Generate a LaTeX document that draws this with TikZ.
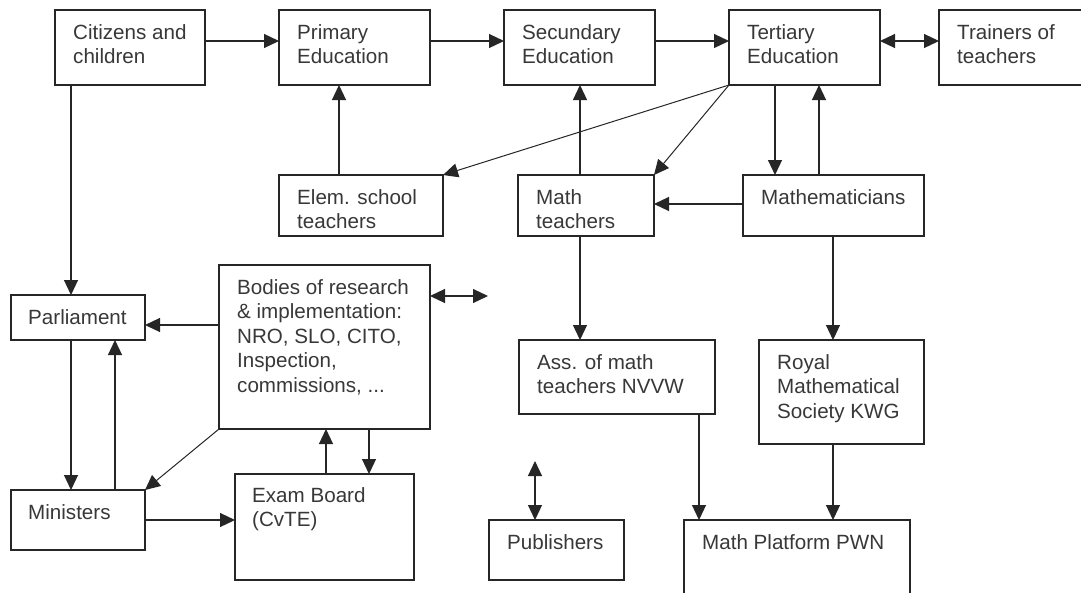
\documentclass[tikz,border=0pt]{standalone}
\usepackage{fontspec}
\setmainfont{Liberation Sans}
\usetikzlibrary{arrows.meta,calc}
\newcommand{\mytxt}[1]{\begin{tabular}[t]{@{}l@{}}#1\end{tabular}}
\begin{document}
\begin{tikzpicture}[x=1pt,y=-1pt,
  box/.style={draw=black!85, line width=1.2pt, inner sep=0pt, outer sep=0pt, anchor=north west, rectangle},
  lbl/.style={anchor=base west, inner sep=0pt, text=black!78, font=\fontsize{20.6}{24.5}\selectfont},
  conn/.style={draw=black!85, line width=1.2pt, -{Triangle[length=15pt,width=14pt]}},
  dconn/.style={draw=black!85, line width=1.2pt, {Triangle[length=15pt,width=14pt]}-{Triangle[length=15pt,width=14pt]}},
  diag/.style={conn, line width=1pt},
]
\useasboundingbox (0,0) rectangle (1081,592);
\clip (0,0) rectangle (1081,592);
\fill[white] (0,0) rectangle (1081,592);

% boxes
\node[box, minimum width=150pt, minimum height=75pt] (cit) at (55,10) {};
\node[box, minimum width=151pt, minimum height=75pt] (prim) at (279,10) {};
\node[box, minimum width=151pt, minimum height=75pt] (sec) at (504,10) {};
\node[box, minimum width=151pt, minimum height=75pt] (ter) at (729,10) {};
\node[box, minimum width=170pt, minimum height=75pt] (trn) at (939,10) {};
\node[box, minimum width=164pt, minimum height=61pt] (elem) at (279,175) {};
\node[box, minimum width=136pt, minimum height=61pt] (mt) at (518,175) {};
\node[box, minimum width=181pt, minimum height=61pt] (mat) at (743,175) {};
\node[box, minimum width=134pt, minimum height=45pt] (parl) at (11,295) {};
\node[box, minimum width=211pt, minimum height=164pt] (bod) at (219,265) {};
\node[box, minimum width=134pt, minimum height=60pt] (min) at (11,490) {};
\node[box, minimum width=179pt, minimum height=106pt] (exam) at (235,474) {};
\node[box, minimum width=196pt, minimum height=74pt] (ass) at (519,340) {};
\node[box, minimum width=165pt, minimum height=104pt] (roy) at (759,340) {};
\node[box, minimum width=135pt, minimum height=60pt] (pub) at (489,520) {};
\node[box, minimum width=226pt, minimum height=95pt] (pwn) at (684,520) {};

% texts
\node[lbl] (citT) at ($(cit.north west)+(18,29)$) {\mytxt{Citizens and\\children}};
\node[lbl] (primT) at ($(prim.north west)+(18,29)$) {\mytxt{Primary\\Education}};
\node[lbl] (secT) at ($(sec.north west)+(18,29)$) {\mytxt{Secundary\\Education}};
\node[lbl] (terT) at ($(ter.north west)+(18,29)$) {\mytxt{Tertiary\\Education}};
\node[lbl] (trnT) at ($(trn.north west)+(18,29)$) {\mytxt{Trainers of\\teachers}};
\node[lbl] (elemT) at ($(elem.north west)+(18,29)$) {\mytxt{Elem. school\\teachers}};
\node[lbl] (mtT) at ($(mt.north west)+(18,29)$) {\mytxt{Math\\teachers}};
\node[lbl] (matT) at ($(mat.north west)+(18,29)$) {Mathematicians};
\node[lbl] (parlT) at ($(parl.north west)+(17,29)$) {Parliament};
\node[lbl] (bodT) at ($(bod.north west)+(18,29)$) {\mytxt{Bodies of research\\\& implementation:\\NRO, SLO, CITO,\\Inspection,\\commissions, ...}};
\node[lbl] (minT) at ($(min.north west)+(17,29)$) {Ministers};
\node[lbl] (examT) at ($(exam.north west)+(17,28)$) {\mytxt{Exam Board\\(CvTE)}};
\node[lbl] (assT) at ($(ass.north west)+(18,29)$) {\mytxt{Ass. of math\\teachers NVVW}};
\node[lbl] (royT) at ($(roy.north west)+(18,29)$) {\mytxt{Royal\\Mathematical\\Society KWG}};
\node[lbl] (pubT) at ($(pub.north west)+(18,29)$) {Publishers};
\node[lbl] (pwnT) at ($(pwn.north west)+(18,29)$) {Math Platform PWN};

% helper levels
\coordinate (yA) at (0,41);
\coordinate (y204) at (0,204);
\coordinate (y325) at (0,325);
\coordinate (y520) at (0,520);
\coordinate (x71) at (71,0);
\coordinate (x115) at (115,0);
\coordinate (x339) at (339,0);
\coordinate (x580) at (580,0);
\coordinate (x775) at (775,0);
\coordinate (x819) at (819,0);
\coordinate (x833) at (833,0);
\coordinate (x326) at (326,0);
\coordinate (x369) at (369,0);
\coordinate (x699) at (699,0);
\coordinate (bfree) at (488,296);
\coordinate (pfree) at (535,461);

% connectors
\draw[conn] (cit.east |- yA) -- (prim.west |- yA);
\draw[conn] (prim.east |- yA) -- (sec.west |- yA);
\draw[conn] (sec.east |- yA) -- (ter.west |- yA);
\draw[dconn] (ter.east |- yA) -- (trn.west |- yA);
\draw[conn] (cit.south -| x71) -- (parl.north -| x71);
\draw[conn] (parl.south -| x71) -- (min.north -| x71);
\draw[conn] (min.north -| x115) -- (parl.south -| x115);
\draw[conn] (elem.north -| x339) -- (prim.south -| x339);
\draw[conn] (mt.north -| x580) -- (sec.south -| x580);
\draw[conn] (mt.south -| x580) -- (ass.north -| x580);
\draw[diag] (ter.south west) -- (elem.north east);
\draw[diag] (ter.south west) -- (mt.north east);
\draw[conn] (ter.south -| x775) -- (mat.north -| x775);
\draw[conn] (mat.north -| x819) -- (ter.south -| x819);
\draw[conn] (mat.west |- y204) -- (mt.east |- y204);
\draw[conn] (mat.south -| x833) -- (roy.north -| x833);
\draw[conn] (roy.south -| x833) -- (pwn.north -| x833);
\draw[conn] (bod.west |- y325) -- (parl.east |- y325);
\draw[diag] (bod.south west) -- (min.north east);
\draw[conn] (min.east |- y520) -- (exam.west |- y520);
\draw[conn] (exam.north -| x326) -- (bod.south -| x326);
\draw[conn] (bod.south -| x369) -- (exam.north -| x369);
\draw[dconn] (bod.east |- bfree) -- (bfree);
\draw[dconn] (pfree) -- (pub.north -| pfree);
\draw[conn] (ass.south -| x699) -- (pwn.north -| x699);
\end{tikzpicture}
\end{document}
